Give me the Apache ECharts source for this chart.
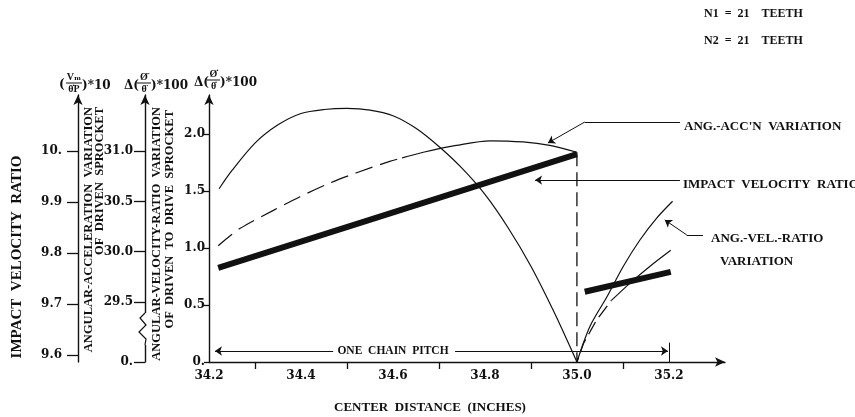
<!DOCTYPE html>
<html>
<head>
<meta charset="utf-8">
<script src="https://cdn.jsdelivr.net/npm/echarts@6/dist/echarts.min.js"></script>
<style>
  html, body { margin: 0; background: #fff; }
  #chart { width: 855px; height: 417px; }
</style>
</head>
<body>
<div id="chart"></div>
<script>
// center distance (inches) and the values
// angular-velocity-ratio variation, main axis units
const velLeftX  = [34.222, 34.25, 34.30, 34.35, 34.40, 34.45, 34.50, 34.55, 34.60, 34.65, 34.70, 34.75, 34.80, 34.85, 34.90, 34.95, 35.0];
const velLeftY  = [1.52, 1.68, 1.92, 2.08, 2.18, 2.215, 2.225, 2.21, 2.16, 2.05, 1.89, 1.70, 1.47, 1.18, 0.84, 0.44, 0];
const velRightX = [35.0, 35.028, 35.065, 35.101, 35.137, 35.173, 35.208];
const velRightY = [0, 0.31, 0.57, 0.84, 1.07, 1.26, 1.41];
// angular-acceleration variation
const accDashX  = [34.22, 34.267, 34.34, 34.398, 34.463, 34.521, 34.593, 34.62];
const accDashY  = [1.02, 1.17, 1.33, 1.45, 1.57, 1.66, 1.76, 1.79];
const accSolidX = [34.62, 34.666, 34.738, 34.811, 34.883, 34.941, 35.0];
const accSolidY = [1.79, 1.84, 1.90, 1.94, 1.93, 1.90, 1.84];
const accDropX  = [35.0, 35.0, 35.014, 35.043, 35.075];
const accDropY  = [1.84, 0, 0.16, 0.37, 0.54];
const accEndX   = [35.075, 35.115, 35.159, 35.204];
const accEndY   = [0.54, 0.69, 0.84, 0.98];
// impact velocity ratio, (V/θP)*10 axis
const impactLeftX  = [34.22, 35.0];
const impactLeftY  = [9.771, 9.994];
const impactRightX = [35.017, 35.204];
const impactRightY = [9.724, 9.763];

// tick labels
const xLabels     = [34.2, 34.4, 34.6, 34.8, 35.0, 35.2];
const xTicks      = [34.3, 34.5, 34.7, 34.9, 35.1];
const mainTicks   = [0, 0.5, 1.0, 1.5, 2.0];
const impactTicks = [9.6, 9.7, 9.8, 9.9, 10.0];
const accTicks    = [29.5, 30.0, 30.5, 31.0];
const accBreakMin = 28.904;   // "0." sits below the axis break

const zip = (xs, ys) => xs.map((x, i) => [x, ys[i]]);

const ink = '#111';
const serif = '"Liberation Serif", "DejaVu Serif", serif';
const tickFont = { color: ink, fontFamily: '"DejaVu Serif", serif', fontWeight: 'bold', fontSize: 12 };

function yAxisBase(offset, min, max, ticks, fmt, len, margin) {
  return {
    type: 'value', position: 'left', offset: offset, min: min, max: max,
    axisLine: { show: true, onZero: false, symbol: ['none', 'arrow'], symbolSize: [7, 10],
      lineStyle: { color: ink, width: 1.4 } },
    axisTick: { show: true, length: len, customValues: ticks, lineStyle: { color: ink, width: 1.3 } },
    axisLabel: Object.assign({ customValues: ticks, formatter: fmt, margin: margin }, tickFont),
    splitLine: { show: false }
  };
}

function frac(x, y, num, den, w) {
  const f = 'bold 10px ' + serif;
  return {
    type: 'group', x: x, y: y, children: [
      { type: 'text', style: { text: num, x: w / 2, y: -1, align: 'center', verticalAlign: 'bottom', font: f, fill: ink } },
      { type: 'line', shape: { x1: 0, y1: 0, x2: w, y2: 0 }, style: { stroke: ink, lineWidth: 1 } },
      { type: 'text', style: { text: den, x: w / 2, y: 1, align: 'center', verticalAlign: 'top', font: f, fill: ink } }
    ]
  };
}

function txt(x, y, s, size, align) {
  return {
    type: 'text', x: x, y: y,
    style: { text: s, font: 'bold ' + size + 'px ' + serif, fill: ink, align: align || 'left', verticalAlign: 'middle' }
  };
}

function vtxt(x, y, s, size, align) {
  return {
    type: 'text', x: x, y: y, rotation: Math.PI / 2,
    style: { text: s, font: 'bold ' + size + 'px ' + serif, fill: ink, align: align || 'right', verticalAlign: 'middle' }
  };
}

const headFont = 'bold 12px "DejaVu Serif", serif';
function head(x, y, s) {
  return { type: 'text', x: x, y: y, style: { text: s, font: headFont, fill: ink, align: 'left', verticalAlign: 'middle' } };
}

const arrowPt = (c) => ({ coord: c, symbol: 'arrow' });
const plainPt = (c) => ({ coord: c, symbol: 'none' });

const myChart = echarts.init(document.getElementById('chart'));
const option = {
  animation: false,
  backgroundColor: '#fff',
  grid: { left: 209, right: 130, top: 95, bottom: 55, containLabel: false },
  xAxis: {
    type: 'value', min: 34.2, max: 35.322,
    axisLine: { show: true, onZero: false, symbol: ['none', 'arrow'], symbolSize: [7, 10],
      lineStyle: { color: ink, width: 1.4 } },
    axisTick: { show: true, length: 7, customValues: xTicks, lineStyle: { color: ink, width: 1.3 } },
    axisLabel: Object.assign({ customValues: xLabels, formatter: (v) => Number(v).toFixed(1), margin: 8 }, tickFont),
    splitLine: { show: false }
  },
  yAxis: [
    yAxisBase(0, 0, 2.342, mainTicks, (v) => Number(v) < 0.01 ? '0.' : Number(v).toFixed(1), 5, 4),
    yAxisBase(131, 9.5863, 10.1098, impactTicks, (v) => Number(v) >= 9.99 ? '10.' : Number(v).toFixed(1), 11, 16),
    yAxisBase(64, accBreakMin, 31.557, [accBreakMin].concat(accTicks),
      (v) => Number(v) < 29 ? '0.' : Number(v).toFixed(1), 11, 12)
  ],
  series: [
    { name: 'ANG.-VEL.-RATIO VARIATION', type: 'line', data: zip(velLeftX, velLeftY), smooth: 0.3,
      showSymbol: false, lineStyle: { color: ink, width: 1.2 } },
    { name: 'ANG.-VEL.-RATIO VARIATION', type: 'line', data: zip(velRightX, velRightY), smooth: 0.3,
      showSymbol: false, lineStyle: { color: ink, width: 1.2 } },
    { name: "ANG.-ACC'N VARIATION", type: 'line', data: zip(accDashX, accDashY), smooth: 0.3,
      showSymbol: false, lineStyle: { color: ink, width: 1.2, type: [18, 8] } },
    { name: "ANG.-ACC'N VARIATION", type: 'line', data: zip(accSolidX, accSolidY), smooth: 0.3,
      showSymbol: false, lineStyle: { color: ink, width: 1.2 } },
    { name: "ANG.-ACC'N VARIATION", type: 'line', data: zip(accDropX, accDropY),
      showSymbol: false, lineStyle: { color: ink, width: 1.3, type: [14, 6] } },
    { name: "ANG.-ACC'N VARIATION", type: 'line', data: zip(accEndX, accEndY), smooth: 0.3,
      showSymbol: false, lineStyle: { color: ink, width: 1.2 } },
    { name: 'IMPACT VELOCITY RATIO', type: 'line', yAxisIndex: 1, data: zip(impactLeftX, impactLeftY),
      showSymbol: false, lineStyle: { color: ink, width: 6 } },
    { name: 'IMPACT VELOCITY RATIO', type: 'line', yAxisIndex: 1, data: zip(impactRightX, impactRightY),
      showSymbol: false, lineStyle: { color: ink, width: 6 } },
    { // leaders and the chain pitch dimension line
      type: 'line', data: [], silent: true,
      markLine: {
        silent: true, symbol: ['none', 'none'], symbolSize: 7,
        label: { show: false },
        lineStyle: { color: ink, width: 1, type: 'solid' },
        data: [
          [plainPt([35.224, 2.105]), plainPt([35.017, 2.105])],
          [plainPt([35.017, 2.105]), arrowPt([34.937, 1.921])],
          [plainPt([35.224, 1.596]), arrowPt([34.909, 1.596])],
          [plainPt([35.274, 1.114]), plainPt([35.239, 1.114])],
          [plainPt([35.239, 1.114]), arrowPt([35.191, 1.246])],
          [arrowPt([34.213, 0.0965]), plainPt([34.47, 0.0965])],
          [plainPt([34.735, 0.0965]), arrowPt([35.198, 0.0965])],
          [plainPt([35.2, 0]), plainPt([35.2, 0.17])]
        ]
      }
    }
  ],
  graphic: [
    // break in the acceleration axis
    { type: 'rect', shape: { x: 141, y: 313, width: 8, height: 32 }, style: { fill: '#fff' }, z: 100 },
    { type: 'polyline', shape: { points: [[145, 313], [140, 318], [146, 325], [139, 332], [146, 339], [145, 345]] },
      style: { stroke: ink, lineWidth: 1.2, fill: null }, z: 101 },
    // axis headers
    head(59, 85, '('), frac(66, 83, 'Vₘ', 'θ̇P', 16), head(82, 86, ')*10'),
    head(124, 86, 'Δ('), frac(137, 83, 'Ø̈', 'θ̈', 14), head(151, 86, ')*100'),
    head(194, 83, 'Δ('), frac(207, 80, 'Ø̇', 'θ̇', 13), head(220, 83, ')*100'),
    // rotated axis titles
    vtxt(17, 257, 'IMPACT  VELOCITY  RATIO', 15, 'center'),
    vtxt(89, 107, 'ANGULAR-ACCELERATION  VARIATION', 12.5),
    vtxt(100, 107, 'OF  DRIVEN  SPROCKET', 12.5),
    vtxt(157, 107, 'ANGULAR-VELOCITY-RATIO  VARIATION', 12.5),
    vtxt(170, 110, 'OF  DRIVEN  TO  DRIVE  SPROCKET', 12.5),
    // x axis title
    txt(430, 408, 'CENTER  DISTANCE  (INCHES)', 13, 'center'),
    // annotations
    txt(684, 127, "ANG.-ACC'N  VARIATION", 13),
    txt(683, 185, 'IMPACT  VELOCITY  RATIO', 13),
    txt(711, 239, 'ANG.-VEL.-RATIO', 13),
    txt(720, 262, 'VARIATION', 13),
    { type: 'text', x: 393, y: 351, z: 50,
      style: { text: 'ONE  CHAIN  PITCH', font: 'bold 11.5px ' + serif, fill: ink, align: 'center', verticalAlign: 'middle' } },
    txt(704, 14, 'N1  =  21    TEETH', 12),
    txt(704, 41, 'N2  =  21    TEETH', 12)
  ]
};
myChart.setOption(option);
</script>
</body>
</html>
